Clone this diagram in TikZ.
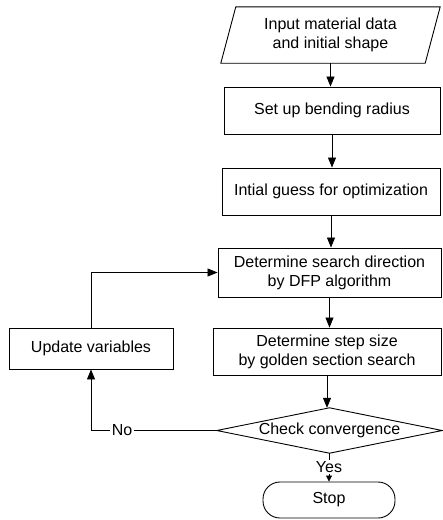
\documentclass[tikz,border=0pt]{standalone}
\usepackage{fontspec}
\setmainfont{Liberation Sans}
\usetikzlibrary{arrows.meta,calc}
\begin{document}
\begin{tikzpicture}[x=1pt,y=-1pt,
  txt/.style={font=\fontsize{16}{19}\selectfont, align=center},
  box/.style={txt, draw, line width=0.9pt},
  lbl/.style={font=\fontsize{16}{19}\selectfont, inner sep=1.5pt},
  line/.style={line width=0.8pt},
  arr/.style={line, -{Triangle[length=10pt,width=8pt]}},
  sarr/.style={line, -{Triangle[length=6pt,width=6pt]}}]
\useasboundingbox (0,0) rectangle (443,520);
% nodes
\node[txt, minimum width=204pt, minimum height=56pt] (in) at (330.5,35) {Input material data\\and initial shape};
\draw[line width=0.9pt] ($(in.north west)+(7.5,0)$) -- ($(in.north east)+(7.5,0)$)
  -- ($(in.south east)+(-7.5,0)$) -- ($(in.south west)+(-7.5,0)$) -- cycle;
\node[box, minimum width=216pt, minimum height=47pt] (setup) at (332,110.5) {Set up bending radius};
\node[box, minimum width=218pt, minimum height=47pt] (guess) at (331,191.5) {Intial guess for optimization};
\node[box, minimum width=223pt, minimum height=49pt] (search) at (329.5,272.5) {Determine search direction\\by DFP algorithm};
\node[box, minimum width=228pt, minimum height=47pt] (step) at (327,351.5) {Determine step size\\by golden section search};
\node[box, minimum width=164pt, minimum height=41pt] (update) at (91,348.5) {Update variables};
\node[txt, minimum width=225pt, minimum height=45pt] (dia) at (329.5,430.5) {Check convergence};
\draw[line width=0.9pt] (dia.north) -- (dia.east) -- (dia.south) -- (dia.west) -- cycle;
\node[box, rounded corners=17pt, minimum width=132pt, minimum height=36pt] (stop) at (329,500) {Stop};
\node[lbl] (no) at (122,430.5) {No};
\node[lbl] (yes) at (329,467) {Yes};
% connectors
\draw[arr] (in.south) -- (in.south |- setup.north);
\draw[arr] (setup.south) -- (setup.south |- guess.north);
\draw[arr] (guess.south) -- (guess.south |- search.north);
\draw[arr] (search.south) -- (search.south |- step.north);
\draw[arr] (step.south) -- (step.south |- dia.north);
\draw[line] (dia.south) -- (dia.south |- yes.north);
\draw[sarr] (yes.south) -- (yes.south |- stop.north);
\draw[line] (dia.west) -- (no.east);
\draw[arr] (no.west) -| (update.south);
\draw[arr] (update.north) |- (search.west);
\end{tikzpicture}
\end{document}
